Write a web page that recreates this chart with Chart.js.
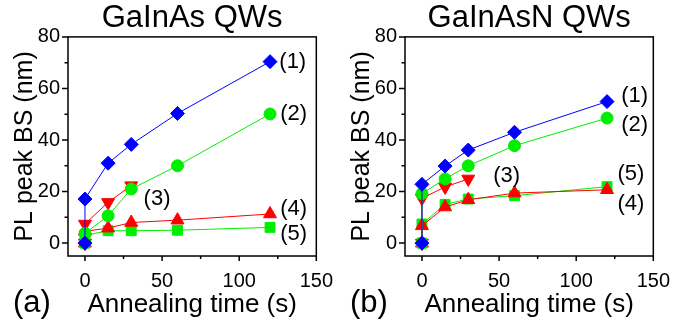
<!DOCTYPE html>
<html>
<head>
<meta charset="utf-8">
<script src="https://cdn.jsdelivr.net/npm/chart.js@4.4.1/dist/chart.umd.min.js"></script>
<style>
  html, body { margin: 0; padding: 0; background: #fff; }
  #wrap { position: relative; width: 675px; height: 325px; }
  .panel { position: absolute; top: 0; width: 338px; height: 325px; }
  #panelA { left: 0; }
  #panelB { left: 337px; }
</style>
</head>
<body>
<div id="wrap">
  <div class="panel" id="panelA"><canvas id="chartA"></canvas></div>
  <div class="panel" id="panelB"><canvas id="chartB"></canvas></div>
</div>
<script>
// annealing times (s); the first 0 is the as-grown reference
const timeFull = [0, 0, 15, 30, 60, 120];
const timeShort = [0, 0, 15, 30];

// PL peak blueshift (nm), GaInAs QWs
const gaInAs1 = [0, 17.1, 31.0, 38.3, 50.3, 70.4];
const gaInAs2 = [0, 3.8, 10.6, 21.0, 30.0, 50.1];
const gaInAs3 = [0, 7.4, 15.8, 22.3];
const gaInAs4 = [0, 4.6, 5.8, 8.0, 8.9, 11.3];
const gaInAs5 = [0, 3.0, 4.8, 4.8, 5.0, 6.1];

// PL peak blueshift (nm), GaInAsN QWs
const gaInAsN1 = [0, 22.8, 29.9, 36.1, 43.0, 54.9];
const gaInAsN2 = [0, 19.2, 24.9, 30.0, 37.8, 48.5];
const gaInAsN3 = [0, 17.4, 21.8, 24.9];
const gaInAsN4 = [0, 6.7, 14.0, 16.8, 19.4, 20.7];
const gaInAsN5 = [0, 7.4, 15.0, 17.1, 18.4, 21.9];

const seriesNames = ['(1)', '(2)', '(3)', '(4)', '(5)'];
const xTicks = [0, 50, 100, 150];
const yTicks = [0, 20, 40, 60, 80];

const BLUE = '#0000ff';
const GREEN = '#00ee00';
const RED = '#ff0000';
const FONT = '"Liberation Sans", Arial, Helvetica, sans-serif';

function pts(xs, ys) {
    return ys.map((y, i) => ({ x: xs[i], y: y }));
}

function makeSets(s1, s2, s3, s4, s5) {
    const base = { showLine: true, borderWidth: 1, pointBorderWidth: 1 };
    return [
        Object.assign({}, base, { label: seriesNames[0], data: pts(timeFull, s1), borderColor: BLUE, backgroundColor: BLUE,
            pointStyle: 'rectRot', pointRadius: 7 }),
        Object.assign({}, base, { label: seriesNames[1], data: pts(timeFull, s2), borderColor: GREEN, backgroundColor: GREEN,
            pointStyle: 'circle', pointRadius: 6 }),
        Object.assign({}, base, { label: seriesNames[2], data: pts(timeShort, s3), borderColor: RED, backgroundColor: RED,
            pointStyle: 'triangle', pointRotation: 180, pointRadius: 7.5 }),
        Object.assign({}, base, { label: seriesNames[3], data: pts(timeFull, s4), borderColor: RED, backgroundColor: RED,
            pointStyle: 'triangle', pointRadius: 7.5 }),
        Object.assign({}, base, { label: seriesNames[4], data: pts(timeFull, s5), borderColor: GREEN, backgroundColor: GREEN,
            pointStyle: 'rect', pointRadius: 7 })
    ];
}

// frame, outward major/minor ticks and the text tags on the plot
const framePlugin = {
    id: 'frame',
    afterDraw(chart, args, opts) {
        const ctx = chart.ctx;
        const a = chart.chartArea;
        const xs = chart.scales.x, ys = chart.scales.y;
        ctx.save();
        ctx.strokeStyle = '#000';
        ctx.lineWidth = 1.5;
        ctx.strokeRect(a.left, a.top, a.right - a.left, a.bottom - a.top);
        ctx.beginPath();
        yTicks.forEach((v, i) => {
            const py = ys.getPixelForValue(v);
            ctx.moveTo(a.left, py); ctx.lineTo(a.left - 6, py);
            if (i < yTicks.length - 1) {
                const my = ys.getPixelForValue((v + yTicks[i + 1]) / 2);
                ctx.moveTo(a.left, my); ctx.lineTo(a.left - 3.5, my);
            }
        });
        xTicks.forEach((v, i) => {
            const px = xs.getPixelForValue(v);
            ctx.moveTo(px, a.bottom); ctx.lineTo(px, a.bottom + 5);
            if (i < xTicks.length - 1) {
                const mx = xs.getPixelForValue((v + xTicks[i + 1]) / 2);
                ctx.moveTo(mx, a.bottom); ctx.lineTo(mx, a.bottom + 3);
            }
        });
        ctx.stroke();

        ctx.fillStyle = '#000';
        ctx.textBaseline = 'middle';
        ctx.textAlign = 'left';
        ctx.font = '22px ' + FONT;
        opts.tags.forEach(t => {
            ctx.fillText(t.text, xs.getPixelForValue(t.x), ys.getPixelForValue(t.y));
        });
        ctx.font = '31px ' + FONT;
        ctx.fillText(opts.panel, 13, 303);
        ctx.restore();
    }
};

function makeChart(id, title, panel, sets, tags) {
    return new Chart(document.getElementById(id), {
        type: 'scatter',
        data: { datasets: sets },
        options: {
            responsive: true,
            maintainAspectRatio: false,
            animation: false,
            layout: { padding: { left: 0, right: 17, top: 0, bottom: 0 } },
            plugins: {
                legend: { display: false },
                tooltip: { enabled: false },
                title: {
                    display: true, text: title, color: '#000', fullSize: false,
                    font: { family: FONT, size: 31, weight: 'normal', lineHeight: 1.19 },
                    padding: 0
                },
                frame: { tags: tags, panel: panel }
            },
            scales: {
                x: {
                    type: 'linear', min: -11, max: 150,
                    grid: { display: false },
                    border: { display: false },
                    afterBuildTicks: s => { s.ticks = xTicks.map(v => ({ value: v })); },
                    afterFit: s => { s.height = 69; },
                    ticks: { color: '#000', padding: 5, font: { family: FONT, size: 20 } },
                    title: {
                        display: true, text: 'Annealing time (s)', color: '#000',
                        font: { family: FONT, size: 26 }, padding: { top: 0, bottom: 5 }
                    }
                },
                y: {
                    type: 'linear', min: -5, max: 80,
                    grid: { display: false },
                    border: { display: false },
                    afterBuildTicks: s => { s.ticks = yTicks.map(v => ({ value: v })); },
                    afterFit: s => { s.width = 68; },
                    ticks: { color: '#000', padding: 0, font: { family: FONT, size: 20 } },
                    title: {
                        display: true, text: 'PL peak BS (nm)', color: '#000',
                        font: { family: FONT, size: 25 }, padding: { top: 10, bottom: 0 }
                    }
                }
            }
        },
        plugins: [framePlugin]
    });
}

makeChart('chartA', 'GaInAs QWs', '(a)',
    makeSets(gaInAs1, gaInAs2, gaInAs3, gaInAs4, gaInAs5),
    [
        { text: seriesNames[0], x: 126, y: 70.4 },
        { text: seriesNames[1], x: 126.6, y: 50.1 },
        { text: seriesNames[2], x: 38, y: 17.1 },
        { text: seriesNames[3], x: 126.6, y: 13.2 },
        { text: seriesNames[4], x: 126.6, y: 3.5 }
    ]);

makeChart('chartB', 'GaInAsN QWs', '(b)',
    makeSets(gaInAsN1, gaInAsN2, gaInAsN3, gaInAsN4, gaInAsN5),
    [
        { text: seriesNames[0], x: 129.2, y: 57.2 },
        { text: seriesNames[1], x: 129.2, y: 45.8 },
        { text: seriesNames[2], x: 46.2, y: 26.1 },
        { text: seriesNames[3], x: 126.7, y: 15.1 },
        { text: seriesNames[4], x: 126.7, y: 26.8 }
    ]);
</script>
</body>
</html>
